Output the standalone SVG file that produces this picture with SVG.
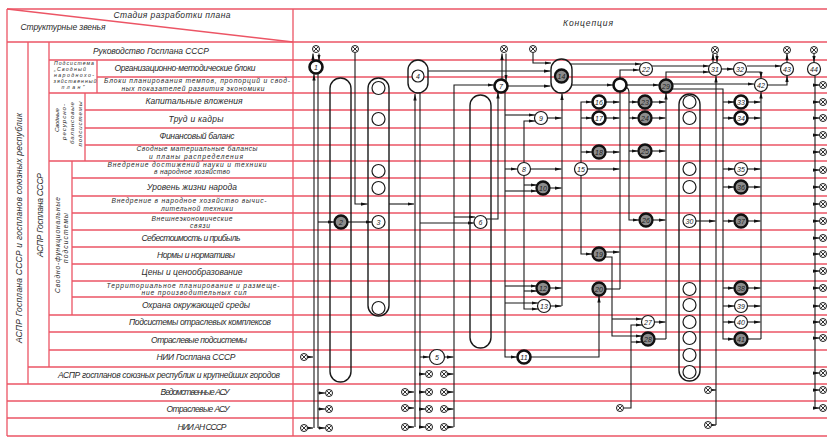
<svg xmlns="http://www.w3.org/2000/svg" width="827" height="438" viewBox="0 0 827 438">
<style>
.g{stroke:#ec5565;stroke-width:1.3;fill:none}
.c{stroke:#1a1a1a;stroke-width:1.1;fill:none}
.a{marker-end:url(#ar)}
.cap{fill:none;stroke:#1a1a1a;stroke-width:1.4}
.n{fill:#fff;stroke:#1a1a1a;stroke-width:1.2}
.b{fill:#fff;stroke:#111;stroke-width:2.6}
.s{fill:#8c8c8c;stroke:#111;stroke-width:2.3}
.e{fill:#fff;stroke:#1a1a1a;stroke-width:1.2}
.t{font-family:"Liberation Sans","DejaVu Sans",sans-serif;font-style:italic;font-size:8.5px;fill:#2a2a2a;text-anchor:middle}
.sm{font-size:6.7px}
.xs{font-size:6.2px}
.xxs{font-size:5.2px}
.nl{font-family:"Liberation Sans","DejaVu Sans",sans-serif;font-style:italic;font-size:7px;fill:#222;text-anchor:middle}
.ox{fill:#fff;stroke:#1a1a1a;stroke-width:1}
</style>
<defs>
<marker id="ar" viewBox="0 0 8 4" refX="8" refY="2" markerWidth="6.5" markerHeight="3.3" orient="auto" markerUnits="userSpaceOnUse"><path d="M0,0 L8,2 L0,4 z" fill="#111"/></marker>
<g id="ox"><circle class="ox" r="3.5"/><path d="M-2.4,-2.4 L2.4,2.4 M-2.4,2.4 L2.4,-2.4" stroke="#1a1a1a" stroke-width="0.9"/></g>
</defs>
<rect width="827" height="438" fill="#fff"/>
<g id="grid">
<path class="g" d="M7,9 H827 M7,42 H827 M49,60 H827 M97,77 H827 M49,93 H827 M85,110 H827 M85,128 H827 M85,145 H827 M49,161 H827 M72,178 H827 M72,196 H827 M72,213 H827 M72,230 H827 M72,247 H827 M72,264 H827 M72,281 H827 M72,297 H827 M49,315 H827 M49,332 H827 M49,350 H827 M28,367 H827 M7,384 H827 M7,401 H827 M7,418 H827 M7,436 H827"/>
<path class="g" d="M7,9 V436 M28,42 V384 M49,42 V367 M72,161 V315 M85,93 V161 M97,60 V93 M293,9 V436 M7,9 L293,42"/>
</g>
<g id="labels">
<text class="t" x="172" y="17.5" textLength="117">Стадия разработки плана</text>
<text class="t" x="63" y="30" textLength="85">Структурные звенья</text>
<text class="t" x="588" y="26" textLength="50">Концепция</text>
<text class="t" x="151" y="54" textLength="116">Руководство Госплана СССР</text>
<text class="t xxs" x="74" y="64.5" textLength="40">Подсистема</text>
<text class="t xxs" x="70" y="70.5" textLength="32">„Сводный</text>
<text class="t xxs" x="74" y="76.5" textLength="40">народнохо-</text>
<text class="t xxs" x="75" y="82.5" textLength="43">зяйственный</text>
<text class="t xxs" x="73" y="88.5" textLength="23">план”</text>
<text class="t" x="185" y="71" textLength="141">Организационно-методические блоки</text>
<text class="t sm" x="197" y="83" textLength="186">Блоки планирования темпов, пропорций и свод-</text>
<text class="t sm" x="193" y="90.5" textLength="143">ных показателей развития экономики</text>
<text class="t" x="194" y="104" textLength="97">Капитальные вложения</text>
<text class="t" x="196" y="122" textLength="55">Труд и кадры</text>
<text class="t" x="197" y="138.5" textLength="75">Финансовый баланс</text>
<text class="t sm" x="197" y="151" textLength="121">Сводные материальные балансы</text>
<text class="t sm" x="196" y="158.5" textLength="94">и планы распределения</text>
<text class="t sm" x="187" y="166.5" textLength="159">Внедрение достижений науки и техники</text>
<text class="t sm" x="192" y="174" textLength="76">в народное хозяйство</text>
<text class="t" x="192" y="190" textLength="90">Уровень жизни народа</text>
<text class="t sm" x="189" y="203" textLength="155">Внедрение в народное хозяйство вычис-</text>
<text class="t sm" x="197" y="210.5" textLength="72">лительной техники</text>
<text class="t sm" x="192" y="220.5" textLength="81">Внешнеэкономические</text>
<text class="t sm" x="200" y="228" textLength="20">связи</text>
<text class="t" x="191" y="241" textLength="99">Себестоимость и прибыль</text>
<text class="t" x="196" y="258" textLength="78">Нормы и нормативы</text>
<text class="t" x="192" y="275" textLength="101">Цены и ценообразование</text>
<text class="t sm" x="193" y="287.5" textLength="173">Территориальное планирование и размеще-</text>
<text class="t sm" x="194" y="295" textLength="105">ние производительных сил</text>
<text class="t" x="196" y="308" textLength="108">Охрана окружающей среды</text>
<text class="t" x="200" y="325" textLength="142">Подсистемы отраслевых комплексов</text>
<text class="t" x="199" y="343" textLength="96">Отраслевые подсистемы</text>
<text class="t" x="196" y="360" textLength="79">НИИ Госплана СССР</text>
<text class="t" x="169" y="378" textLength="222">АСПР госпланов союзных республик и крупнейших городов</text>
<text class="t" x="195" y="395" textLength="69">Ведомственные АСУ</text>
<text class="t" x="198" y="412" textLength="63">Отраслевые АСУ</text>
<text class="t" x="202" y="430" textLength="49">НИИ АН СССР</text>
<text class="t" transform="translate(21.5,228) rotate(-90)" textLength="230">АСПР Госплана СССР и госпланов союзных республик</text>
<text class="t" transform="translate(43,215) rotate(-90)" textLength="84">АСПР Госплана СССР</text>
<text class="t xs" transform="translate(58.5,120) rotate(-90)" textLength="24">Сводные</text>
<text class="t xs" transform="translate(65.5,122) rotate(-90)" textLength="36">ресурсно-</text>
<text class="t xs" transform="translate(73.5,123) rotate(-90)" textLength="42">балансовые</text>
<text class="t xs" transform="translate(81.5,124) rotate(-90)" textLength="45">подсистемы</text>
<text class="t sm" transform="translate(59.5,245) rotate(-90)" textLength="96">Сводно-функциональные</text>
<text class="t sm" transform="translate(68,238) rotate(-90)" textLength="50">подсистемы</text>
</g>
<g id="capA"><rect class="cap" x="330" y="78" width="21" height="304" rx="10.5"/></g>
<g id="capB"><rect class="cap" x="368" y="78" width="21" height="238" rx="10.5"/>
<circle class="e" cx="378.5" cy="88" r="6.5"/><circle class="e" cx="378.5" cy="119" r="6.5"/><circle class="e" cx="378.5" cy="171" r="6.5"/><circle class="e" cx="378.5" cy="188" r="6.5"/><circle class="e" cx="378.5" cy="308" r="6.5"/></g>
<g id="capC"><rect class="cap" x="470" y="95" width="21" height="253" rx="10.5"/></g>
<g id="capD"><rect class="cap" x="679" y="94" width="21" height="287" rx="10.5"/>
<circle class="e" cx="689.5" cy="102" r="6.5"/><circle class="e" cx="689.5" cy="118" r="6.5"/><circle class="e" cx="689.5" cy="169" r="6.5"/><circle class="e" cx="689.5" cy="187" r="6.5"/><circle class="e" cx="689.5" cy="289" r="6.5"/><circle class="e" cx="689.5" cy="305" r="6.5"/><circle class="e" cx="689.5" cy="322" r="6.5"/><circle class="e" cx="689.5" cy="338" r="6.5"/><circle class="e" cx="689.5" cy="355" r="6.5"/><circle class="e" cx="689.5" cy="372" r="6.5"/></g>
<g id="connectors">
<path class="c a" d="M313,60.5 L313,53.5"/><path class="c a" d="M319,53.5 L319,61"/>
<path class="c a" d="M314,428 L314,74"/>
<path class="c a" d="M308,357 L313,357"/><path class="c a" d="M308,428 L313,428"/>
<path class="c" d="M318,74 L318,428"/>
<path class="c a" d="M318,393 L325,393"/><path class="c a" d="M318,409 L325,409"/><path class="c a" d="M318,428 L325,428"/>
<path class="c a" d="M318,222 L334,222"/>
<path class="c a" d="M348,222 L372,222"/>
<path class="c a" d="M355,53 L355,204 L367.5,204"/>
<path class="c a" d="M389,204 L414,204"/>
<path class="c a" d="M415,427 L415,94"/>
<path class="c a" d="M409,392 L414,392"/><path class="c a" d="M409,408 L414,408"/><path class="c a" d="M409,427 L414,427"/>
<path class="c" d="M420,93 L420,427"/>
<path class="c a" d="M420,223 L474,223"/>
<path class="c a" d="M420,357 L429,357"/>
<path class="c a" d="M420,374 L425.5,374"/><path class="c a" d="M420,392 L425.5,392"/><path class="c a" d="M420,409 L425.5,409"/><path class="c a" d="M420,427 L425.5,427"/>
<path class="c a" d="M445,357 L453.5,357"/>
<path class="c a" d="M448,374 L453.5,374"/><path class="c a" d="M448,392 L453.5,392"/><path class="c a" d="M448,409 L453.5,409"/><path class="c a" d="M448,427 L453.5,427"/>
<path class="c a" d="M454,427 L454,85 L494,85"/>
<path class="c a" d="M454,217 L475,217"/>
<path class="c a" d="M486.5,219 L498,219 L498,92"/>
<path class="c a" d="M502,80 L502,53.5"/><path class="c a" d="M506,53.5 L506,81"/>
<path class="c a" d="M508,86 L550.5,86"/>
<path class="c a" d="M428,71 L550.5,71"/>
<path class="c a" d="M533,53 L533,63 L551,63"/>
<path class="c a" d="M505,91 L505,357 L517,357"/>
<path class="c a" d="M505,115 L535,115"/>
<path class="c a" d="M505,169 L517,169"/>
<path class="c a" d="M505,191 L537,191"/>
<path class="c a" d="M505,286 L537,286"/>
<path class="c a" d="M505,303 L538,303"/>
<path class="c a" d="M524,162.5 L524,121 L535,121"/>
<path class="c a" d="M524,175.5 L524,309 L538,309"/>
<path class="c a" d="M524,185 L537,185"/><path class="c a" d="M524,291 L537,291"/>
<path class="c a" d="M531,169 L561.5,169"/>
<path class="c a" d="M548,118 L561.5,118"/>
<path class="c a" d="M550,188 L561.5,188"/><path class="c a" d="M550,288 L561.5,288"/><path class="c a" d="M551,306 L561.5,306"/>
<path class="c a" d="M562,306 L562,93.5"/>
<path class="c a" d="M531,357 L599,357 L599,296"/>
<path class="c a" d="M572,85 L613,85"/>
<path class="c a" d="M627,85 L659,85"/>
<path class="c a" d="M620,289 L620,70 L639,70"/>
<path class="c a" d="M570,64 L641,64"/>
<path class="c a" d="M652,66 L709,66"/>
<path class="c a" d="M666,79.5 L666,72 L709,72"/>
<path class="c a" d="M606,102 L619.5,102"/><path class="c a" d="M606,118 L619.5,118"/><path class="c a" d="M606,152 L619.5,152"/>
<path class="c a" d="M588,169 L619.5,169"/><path class="c a" d="M605.5,252 L619.5,252"/>
<path class="c" d="M606,289 L620,289"/>
<path class="c a" d="M581,162.5 L581,102 L592,102"/><path class="c a" d="M581,118 L592,118"/><path class="c a" d="M581,152 L592,152"/>
<path class="c a" d="M581,175.5 L581,254 L592,254"/>
<path class="c a" d="M605,257 L612,257 L612,336 L642,336"/><path class="c a" d="M612,319 L642,319"/>
<path class="c a" d="M624,408 L631,408 L631,325 L642,325"/><path class="c a" d="M631,342 L642,342"/>
<path class="c a" d="M626.5,87.5 Q629,88.5 629,93 L629,220 L639,220"/>
<path class="c a" d="M629,102 L638,102"/><path class="c a" d="M629,118 L638,118"/><path class="c a" d="M629,151 L638,151"/>
<path class="c a" d="M652,102 L665.5,102"/><path class="c a" d="M652,118 L665.5,118"/><path class="c a" d="M652,151 L665.5,151"/><path class="c a" d="M653,220 L665.5,220"/><path class="c a" d="M655,322 L665.5,322"/>
<path class="c" d="M655,339 L666,339"/>
<path class="c a" d="M666,339 L666,93"/>
<path class="c a" d="M672.5,84 L754,84"/>
<path class="c a" d="M672,89 L723,89 L723,339 L734.5,339"/>
<path class="c a" d="M723,102 L734.5,102"/><path class="c a" d="M723,118 L734.5,118"/><path class="c a" d="M723,169 L734.5,169"/><path class="c a" d="M723,187 L734.5,187"/><path class="c a" d="M723,221 L734.5,221"/><path class="c a" d="M723,288 L734.5,288"/><path class="c a" d="M723,306 L734.5,306"/><path class="c a" d="M723,322 L734.5,322"/>
<path class="c a" d="M748,102 L760.5,102"/><path class="c a" d="M748,118 L760.5,118"/><path class="c a" d="M748,169 L760.5,169"/><path class="c a" d="M748,187 L760.5,187"/><path class="c a" d="M748,221 L760.5,221"/><path class="c a" d="M748,288 L760.5,288"/><path class="c a" d="M748,306 L760.5,306"/><path class="c a" d="M748,322 L760.5,322"/>
<path class="c" d="M748,339 L761,339"/>
<path class="c a" d="M761,339 L761,92"/>
<path class="c a" d="M713,62.5 L713,53.5"/><path class="c a" d="M717,53.5 L717,62.5"/>
<path class="c a" d="M722,69 L733.5,69"/>
<path class="c a" d="M747,66 L781,66"/>
<path class="c a" d="M746.5,72 L761,72 L761,78.5"/>
<path class="c a" d="M767.5,85 L787,85 L787,75.5"/>
<path class="c a" d="M787,62.5 L787,53.5"/>
<path class="c a" d="M814,53.5 L814,62.5"/>
<path class="c" d="M815,75.5 L815,408"/>
<path class="c a" d="M815,85 L819.5,85"/><path class="c a" d="M815,102 L819.5,102"/><path class="c a" d="M815,118 L819.5,118"/><path class="c a" d="M815,135 L819.5,135"/><path class="c a" d="M815,152 L819.5,152"/><path class="c a" d="M815,170 L819.5,170"/><path class="c a" d="M815,187 L819.5,187"/><path class="c a" d="M815,204 L819.5,204"/><path class="c a" d="M815,221 L819.5,221"/><path class="c a" d="M815,238 L819.5,238"/><path class="c a" d="M815,254 L819.5,254"/><path class="c a" d="M815,271 L819.5,271"/><path class="c a" d="M815,288 L819.5,288"/><path class="c a" d="M815,306 L819.5,306"/><path class="c a" d="M815,322 L819.5,322"/><path class="c a" d="M815,338 L819.5,338"/><path class="c a" d="M815,373 L819.5,373"/><path class="c a" d="M815,390 L819.5,390"/><path class="c a" d="M815,408 L819.5,408"/>
<path class="c a" d="M716,425 L716,76"/>
<path class="c a" d="M712,390 L716,390"/><path class="c a" d="M712,425 L716,425"/>
<path class="c a" d="M696,221 L715.5,221"/>
</g>
<g id="n1"><circle class="b" cx="316" cy="67" r="6.5"/><text class="nl" x="316" y="69.5">1</text></g>
<g id="n2"><circle class="s" cx="341" cy="222" r="6.5"/><text class="nl" x="341" y="224.5">2</text></g>
<g id="n3"><circle class="n" cx="378.5" cy="222" r="6.5"/><text class="nl" x="378.5" y="224.5">3</text></g>
<g id="n4"><rect class="cap" x="408" y="60" width="20" height="33" rx="10"/><circle class="n" cx="418" cy="76" r="6"/><text class="nl" x="418" y="78.5">4</text></g>
<g id="n5"><circle class="n" cx="437" cy="357" r="7.5"/><text class="nl" x="437" y="359.5">5</text></g>
<g id="n6"><circle class="n" cx="480.5" cy="222" r="6.5"/><text class="nl" x="480.5" y="224.5">6</text></g>
<g id="n7"><circle class="b" cx="501" cy="86" r="6.5"/><text class="nl" x="501" y="88.5">7</text></g>
<g id="n8"><circle class="n" cx="524" cy="169" r="6.5"/><text class="nl" x="524" y="171.5">8</text></g>
<g id="n9"><circle class="n" cx="541" cy="118" r="6.5"/><text class="nl" x="541" y="120.5">9</text></g>
<g id="n10"><circle class="s" cx="543" cy="188" r="6.5"/><text class="nl" x="543" y="190.5">10</text></g>
<g id="n11"><circle class="b" cx="524" cy="357" r="6.5"/><text class="nl" x="524" y="359.5">11</text></g>
<g id="n12"><circle class="s" cx="543" cy="288" r="6.5"/><text class="nl" x="543" y="290.5">12</text></g>
<g id="n13"><circle class="n" cx="544" cy="306" r="6.5"/><text class="nl" x="544" y="308.5">13</text></g>
<g id="n14"><rect class="cap" x="551" y="59" width="21" height="34" rx="10.5"/><circle class="s" cx="561.5" cy="76" r="6.5"/><text class="nl" x="561.5" y="78.5">14</text></g>
<g id="n15"><circle class="n" cx="581" cy="169" r="6.5"/><text class="nl" x="581" y="171.5">15</text></g>
<g id="n16"><circle class="b" cx="599" cy="102" r="6.5"/><text class="nl" x="599" y="104.5">16</text></g>
<g id="n17"><circle class="b" cx="599" cy="118" r="6.5"/><text class="nl" x="599" y="120.5">17</text></g>
<g id="n18"><circle class="s" cx="599" cy="152" r="6.5"/><text class="nl" x="599" y="154.5">18</text></g>
<g id="n19"><circle class="s" cx="599" cy="254" r="6.5"/><text class="nl" x="599" y="256.5">19</text></g>
<g id="n20"><circle class="s" cx="599" cy="289" r="6.5"/><text class="nl" x="599" y="291.5">20</text></g>
<g id="n21"><circle class="b" cx="620" cy="85" r="6.5"/></g>
<g id="n22"><circle class="n" cx="646" cy="69" r="6.5"/><text class="nl" x="646" y="71.5">22</text></g>
<g id="n23"><circle class="s" cx="645" cy="102" r="6.5"/><text class="nl" x="645" y="104.5">23</text></g>
<g id="n24"><circle class="s" cx="645" cy="118" r="6.5"/><text class="nl" x="645" y="120.5">24</text></g>
<g id="n25"><circle class="s" cx="645" cy="151" r="6.5"/><text class="nl" x="645" y="153.5">25</text></g>
<g id="n26"><circle class="s" cx="646" cy="220" r="6.5"/><text class="nl" x="646" y="222.5">26</text></g>
<g id="n27"><circle class="n" cx="648" cy="322" r="6.5"/><text class="nl" x="648" y="324.5">27</text></g>
<g id="n28"><circle class="s" cx="648" cy="339" r="6.5"/><text class="nl" x="648" y="341.5">28</text></g>
<g id="n29"><circle class="s" cx="666" cy="86" r="6.5"/><text class="nl" x="666" y="88.5">29</text></g>
<g id="n30"><circle class="n" cx="689.5" cy="221" r="6.5"/><text class="nl" x="689.5" y="223.5">30</text></g>
<g id="n31"><circle class="n" cx="715" cy="69" r="6.5"/><text class="nl" x="715" y="71.5">31</text></g>
<g id="n32"><circle class="n" cx="740" cy="69" r="6.5"/><text class="nl" x="740" y="71.5">32</text></g>
<g id="n33"><circle class="b" cx="741" cy="102" r="6.5"/><text class="nl" x="741" y="104.5">33</text></g>
<g id="n34"><circle class="b" cx="741" cy="118" r="6.5"/><text class="nl" x="741" y="120.5">34</text></g>
<g id="n35"><circle class="n" cx="741" cy="169" r="6.5"/><text class="nl" x="741" y="171.5">35</text></g>
<g id="n36"><circle class="s" cx="741" cy="187" r="6.5"/><text class="nl" x="741" y="189.5">36</text></g>
<g id="n37"><circle class="s" cx="741" cy="221" r="6.5"/><text class="nl" x="741" y="223.5">37</text></g>
<g id="n38"><circle class="s" cx="741" cy="288" r="6.5"/><text class="nl" x="741" y="290.5">38</text></g>
<g id="n39"><circle class="n" cx="741" cy="306" r="6.5"/><text class="nl" x="741" y="308.5">39</text></g>
<g id="n40"><circle class="n" cx="741" cy="322" r="6.5"/><text class="nl" x="741" y="324.5">40</text></g>
<g id="n41"><circle class="s" cx="741" cy="339" r="6.5"/><text class="nl" x="741" y="341.5">41</text></g>
<g id="n42"><circle class="n" cx="761" cy="85" r="6.5"/><text class="nl" x="761" y="87.5">42</text></g>
<g id="n43"><circle class="n" cx="787" cy="69" r="6.5"/><text class="nl" x="787" y="71.5">43</text></g>
<g id="n44"><circle class="n" cx="814" cy="69" r="6.5"/><text class="nl" x="814" y="71.5">44</text></g>
<g id="terminals">
<g id="tx1"><use href="#ox" x="316" y="49"/></g><g id="tx2"><use href="#ox" x="355" y="49"/></g><g id="tx3"><use href="#ox" x="504" y="49"/></g><g id="tx4"><use href="#ox" x="533" y="49"/></g><g id="tx5"><use href="#ox" x="715" y="50"/></g><g id="tx6"><use href="#ox" x="787" y="50"/></g><g id="tx7"><use href="#ox" x="814" y="50"/></g>
<g id="tr1"><use href="#ox" x="823" y="85"/></g><g id="tr2"><use href="#ox" x="823" y="102"/></g><g id="tr3"><use href="#ox" x="823" y="118"/></g><g id="tr4"><use href="#ox" x="823" y="135"/></g><g id="tr5"><use href="#ox" x="823" y="152"/></g><g id="tr6"><use href="#ox" x="823" y="170"/></g><g id="tr7"><use href="#ox" x="823" y="187"/></g><g id="tr8"><use href="#ox" x="823" y="204"/></g><g id="tr9"><use href="#ox" x="823" y="221"/></g><g id="tr10"><use href="#ox" x="823" y="238"/></g><g id="tr11"><use href="#ox" x="823" y="254"/></g><g id="tr12"><use href="#ox" x="823" y="271"/></g><g id="tr13"><use href="#ox" x="823" y="288"/></g><g id="tr14"><use href="#ox" x="823" y="306"/></g><g id="tr15"><use href="#ox" x="823" y="322"/></g><g id="tr16"><use href="#ox" x="823" y="338"/></g><g id="tr17"><use href="#ox" x="823" y="373"/></g><g id="tr18"><use href="#ox" x="823" y="390"/></g><g id="tr19"><use href="#ox" x="823" y="408"/></g>
<g id="tb1"><use href="#ox" x="304" y="357"/></g><g id="tb2"><use href="#ox" x="304" y="428"/></g>
<g id="tb3"><use href="#ox" x="329" y="393"/></g><g id="tb4"><use href="#ox" x="329" y="409"/></g><g id="tb5"><use href="#ox" x="329" y="428"/></g>
<g id="tb6"><use href="#ox" x="405" y="392"/></g><g id="tb7"><use href="#ox" x="405" y="408"/></g><g id="tb8"><use href="#ox" x="405" y="427"/></g>
<g id="tb9"><use href="#ox" x="429" y="374"/></g><g id="tb10"><use href="#ox" x="429" y="392"/></g><g id="tb11"><use href="#ox" x="429" y="409"/></g><g id="tb12"><use href="#ox" x="429" y="427"/></g>
<g id="tb13"><use href="#ox" x="444" y="374"/></g><g id="tb14"><use href="#ox" x="444" y="392"/></g><g id="tb15"><use href="#ox" x="444" y="409"/></g><g id="tb16"><use href="#ox" x="444" y="427"/></g>
<g id="tb17"><use href="#ox" x="620" y="408"/></g><g id="tb18"><use href="#ox" x="708" y="390"/></g><g id="tb19"><use href="#ox" x="708" y="425"/></g>
</g>
</svg>
